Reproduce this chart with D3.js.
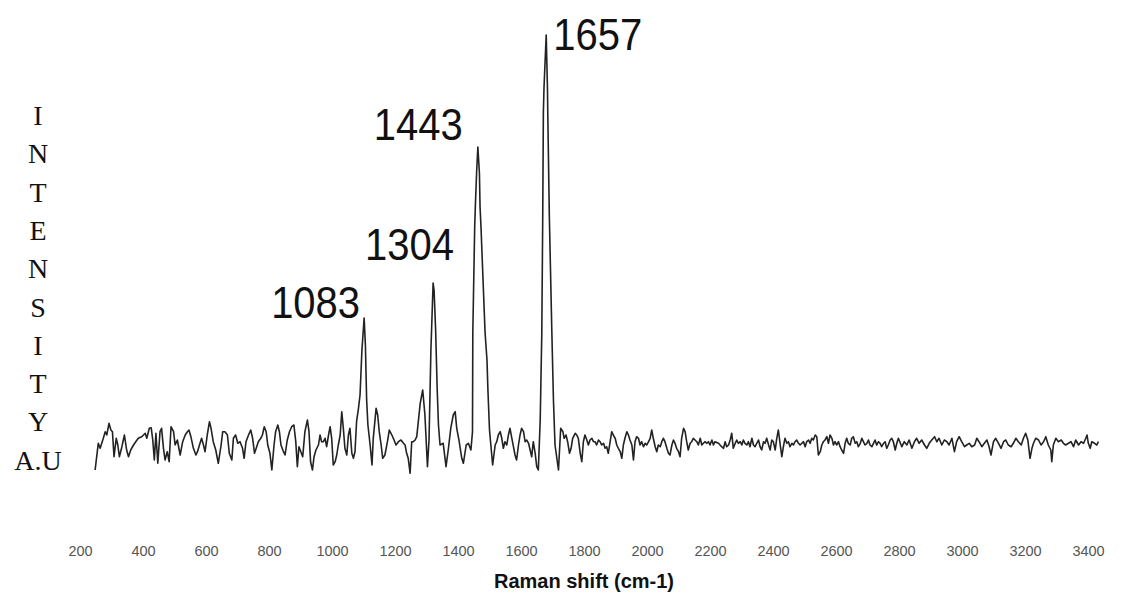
<!DOCTYPE html>
<html>
<head>
<meta charset="utf-8">
<script src="https://cdn.jsdelivr.net/npm/d3@7"></script>
<style>
  html, body { margin: 0; padding: 0; background: #fff; }
  svg { display: block; }
  .tick text { font-family: "Liberation Sans", Arial, sans-serif; font-size: 14.5px; fill: #555; }
</style>
</head>
<body>
<svg width="1123" height="594"></svg>
<script>
// spectrum: [Raman shift (cm-1), intensity (a.u.)]
const lowShift = [
  [248,100],[258,367],[264,317],[274,417],[280,483],[285,450],[292,567],[298,500],[303,483],[308,233],
  [315,417],[320,350],[325,233],[333,333],[341,450],[348,300],[354,233],[361,300],[370,350],[377,383],
  [385,417],[396,433],[407,467],[412,417],[420,517],[426,523],[431,400],[436,200],[441,467],[447,167],
  [454,483],[459,517],[465,317],[470,200],[477,283],[483,183],[489,533],[497,483],[502,350],[509,400],
  [518,250],[526,383],[534,450],[541,483],[546,500],[552,433],[560,317],[568,250],[573,283],[581,367],
  [586,417],[592,350],[597,283],[604,450],[611,583],[616,517],[623,383],[631,300],[639,167],[648,350],
  [653,483],[660,483],[668,450],[674,267],[682,200],[687,417],[694,450],[701,367],[708,383],[716,317],
  [721,217],[727,383],[735,450],[742,500],[748,417],[754,267],[761,333],[766,383],[774,417],[779,450],
  [785,533],[791,483],[796,350],[803,267],[809,100],[816,350],[821,483],[828,550],[833,483],[838,350],
  [846,283],[851,250],[858,400],[865,483],[872,533],[879,550],[885,383],[890,133],[895,333],[901,283],
  [907,233],[914,483],[922,600],[927,483],[932,183],[938,100],[943,233],[949,300],[957,350],[962,450],
  [967,383],[973,383],[978,417],[983,333],[989,450],[994,533],[999,417],[1004,150],[1010,183],[1015,250],
  [1020,350],[1026,450],[1031,683],[1036,517],[1041,317],[1047,250],[1052,450],[1057,517],[1063,267],
  [1068,217],[1073,283],[1078,583],[1084,717]
];

const peakShift = [
  [1089,850],[1095,1300],[1102,1620],[1106,1350],[1110,800],[1114,550],[1121,350],[1127,150],[1131,417],
  [1137,617],[1140,717],[1145,650],[1150,483],[1156,350],[1161,217],[1168,250],[1176,383],[1182,500],
  [1190,450],[1197,400],[1203,350],[1211,383],[1219,400],[1227,367],[1232,350],[1237,267],[1242,217],
  [1248,67],[1253,383],[1258,383],[1264,400],[1269,433],[1274,583],[1280,767],[1285,850],[1288,900],
  [1295,650],[1303,133],[1308,400],[1314,1300],[1321,1970],[1324,1900],[1329,1500],[1334,900],[1338,550],
  [1343,350],[1353,367],[1362,133],[1369,300],[1377,517],[1385,650],[1391,683],[1396,517],[1403,400],
  [1412,217],[1417,167],[1426,350],[1433,367],[1441,300],[1446,483],[1447,1470],[1453,2530],[1455,2730],
  [1459,3070],[1463,3330],[1468,3070],[1470,2730],[1473,2530],[1486,1470],[1492,1200],[1495,900],
  [1500,500],[1510,150],[1518,350],[1523,383],[1528,450],[1534,483],[1539,417],[1544,317],[1549,383],
  [1555,350],[1560,450],[1565,517],[1571,417],[1576,333],[1581,250],[1586,200],[1592,350],[1597,450],
  [1602,517],[1608,483],[1613,383],[1618,400],[1624,367],[1629,300],[1634,233],[1639,383],[1645,267],
  [1650,133],[1655,100],[1661,600],[1666,1470],[1669,2630],[1671,3670],[1673,3920],[1680,4450],
  [1684,3920],[1685,3670],[1690,2630],[1698,1470],[1703,800],[1708,350],[1719,100]
];

const highShift = [
  [1726,517],[1733,483],[1737,417],[1743,450],[1748,383],[1754,267],[1759,317],[1764,417],[1772,467],
  [1777,450],[1782,417],[1788,267],[1793,183],[1798,383],[1803,450],[1809,400],[1814,350],[1819,400],
  [1825,417],[1830,383],[1835,383],[1840,350],[1846,400],[1851,383],[1856,350],[1862,367],[1867,317],
  [1872,333],[1877,267],[1883,383],[1888,483],[1893,450],[1899,417],[1904,350],[1909,317],[1915,283],
  [1920,217],[1925,350],[1930,417],[1936,483],[1941,450],[1946,400],[1952,350],[1957,200],[1962,383],
  [1967,433],[1973,417],[1978,350],[1983,383],[1989,333],[1994,367],[1999,350],[2005,383],[2010,417],
  [2015,500],[2020,417],[2026,333],[2031,283],[2036,350],[2042,333],[2047,383],[2052,417],[2057,383],
  [2063,317],[2068,267],[2073,250],[2079,350],[2084,400],[2089,367],[2094,317],[2100,283],[2105,233],
  [2110,417],[2116,517],[2121,483],[2126,383],[2131,300],[2137,367],[2142,383],[2147,417],[2158,383],
  [2163,350],[2169,417],[2174,350],[2179,367],[2184,383],[2190,367],[2195,383],[2200,350],[2206,400],
  [2211,350],[2216,383],[2227,367],[2232,350],[2237,333],[2243,317],[2248,383],[2253,333],[2259,350],
  [2264,400],[2269,467],[2274,317],[2280,367],[2285,400],[2290,367],[2296,383],[2301,350],[2306,400],
  [2311,367],[2317,350],[2322,383],[2327,333],[2333,417],[2338,350],[2343,333],[2354,400],[2359,333],
  [2364,300],[2370,383],[2375,367],[2380,417],[2386,350],[2391,300],[2396,400],[2401,383],[2407,300],
  [2412,417],[2417,500],[2423,350],[2428,233],[2433,333],[2438,417],[2444,367],[2449,383],[2454,333],
  [2460,367],[2465,350],[2470,383],[2475,400],[2481,367],[2486,350],[2497,383],[2502,333],[2507,383],
  [2513,400],[2518,367],[2523,417],[2528,400],[2534,450],[2539,433],[2544,250],[2550,283],[2555,350],
  [2560,383],[2565,400],[2571,433],[2576,367],[2581,450],[2587,417],[2592,350],[2597,383],[2602,350],
  [2608,383],[2613,333],[2618,300],[2624,267],[2629,367],[2634,417],[2639,367],[2645,350],[2650,417],
  [2655,433],[2661,367],[2666,383],[2671,333],[2677,367],[2682,417],[2687,383],[2692,350],[2698,367],
  [2703,400],[2708,350],[2714,333],[2719,367],[2724,400],[2729,350],[2735,383],[2740,367],[2745,333],
  [2751,367],[2756,383],[2761,317],[2766,350],[2772,400],[2777,417],[2782,383],[2788,300],[2793,367],
  [2798,417],[2809,333],[2817,383],[2825,350],[2832,400],[2841,317],[2849,383],[2856,417],[2864,367],
  [2872,400],[2881,350],[2888,317],[2896,367],[2904,400],[2913,433],[2920,383],[2927,417],[2936,350],
  [2944,400],[2952,383],[2959,350],[2968,417],[2976,283],[2983,383],[2991,433],[2999,383],[3008,333],
  [3015,350],[3023,367],[3031,333],[3040,350],[3047,417],[3054,383],[3063,333],[3071,367],[3079,400],
  [3086,333],[3092,250],[3100,383],[3107,417],[3116,367],[3124,317],[3132,383],[3139,400],[3147,350],
  [3156,333],[3163,367],[3171,417],[3179,383],[3188,350],[3195,417],[3202,467],[3209,400],[3216,217],
  [3222,317],[3227,367],[3234,417],[3243,400],[3251,350],[3259,383],[3266,433],[3274,350],[3282,300],
  [3285,183],[3290,350],[3298,417],[3306,383],[3315,400],[3322,367],[3329,350],[3338,367],[3346,383],
  [3354,333],[3361,400],[3370,350],[3378,383],[3386,367],[3393,417],[3397,450],[3401,367],[3407,317],
  [3412,383],[3421,367],[3428,350],[3433,383]
];

// labelled bands: [label, shift of drawn tip, intensity of tip]
const peakLabels = [
  ["1083", 1102, 1620],
  ["1304", 1321, 1970],
  ["1443", 1463, 3330],
  ["1657", 1680, 4450]
];

const xTicks = [200, 400, 600, 800, 1000, 1200, 1400, 1600, 1800, 2000, 2200, 2400, 2600, 2800, 3000, 3200, 3400];
const yLetters = ["I", "N", "T", "E", "N", "S", "I", "T", "Y", "A.U"];

const spectrum = lowShift.concat(peakShift, highShift);

const svg = d3.select("svg");

// prettier-ignore
svg.append("rect")
    .attr("width", 1123)
    .attr("height", 594)
    .attr("fill", "#fff")

// prettier-ignore
const x = d3.scaleLinear()
    .domain([200, 3400])
    .range([80, 1088])

// prettier-ignore
const y = d3.scaleLinear()
    .domain([0, 4450])
    .range([480, 35])

// prettier-ignore
const line = d3.line()
    .x(d => x(d[0]))
    .y(d => y(d[1]))

// prettier-ignore
svg.append("path")
    .datum(spectrum)
    .attr("d", line)
    .attr("fill", "none")
    .attr("stroke", "#222")
    .attr("stroke-width", 1.6)
    .attr("stroke-linejoin", "round")

// bottom axis: labels only, no line, no tick marks
// prettier-ignore
const xAxis = d3.axisBottom(x)
    .tickValues(xTicks)
    .tickFormat(d3.format("d"))
    .tickSize(0)
    .tickPadding(0)

// prettier-ignore
const xAxisG = svg.append("g")
    .attr("transform", "translate(0, 546)")
    .call(xAxis)

xAxisG.select(".domain").remove();

// prettier-ignore
svg.append("text")
    .attr("x", x(1800))
    .attr("y", 588)
    .attr("text-anchor", "middle")
    .attr("font-family", "'Liberation Sans', Arial, sans-serif")
    .attr("font-weight", "bold")
    .attr("font-size", 20)
    .attr("fill", "#111")
    .text("Raman shift (cm-1)")

// stacked intensity label
// prettier-ignore
svg.append("g")
    .selectAll("text")
    .data(yLetters)
    .join("text")
    .attr("x", 38)
    .attr("y", (d, i) => 125 + i * 38.3)
    .attr("text-anchor", "middle")
    .attr("font-family", "'Liberation Serif', 'Times New Roman', serif")
    .attr("font-size", 28)
    .attr("fill", "#111")
    .text(d => d)

// peak labels, placed next to the drawn tips
const labelOffsets = {
  "1083": { dx: -4, dy: 0, anchor: "end" },
  "1304": { dx: 21, dy: -23, anchor: "end" },
  "1443": { dx: -15, dy: -7, anchor: "end" },
  "1657": { dx: 7, dy: 15, anchor: "start" }
};

// prettier-ignore
svg.append("g")
    .selectAll("text")
    .data(peakLabels)
    .join("text")
    .attr("x", d => x(d[1]) + labelOffsets[d[0]].dx)
    .attr("y", d => y(d[2]) + labelOffsets[d[0]].dy)
    .attr("text-anchor", d => labelOffsets[d[0]].anchor)
    .attr("font-family", "'Liberation Sans', Arial, sans-serif")
    .attr("font-size", 44)
    .attr("textLength", 89)
    .attr("lengthAdjust", "spacingAndGlyphs")
    .attr("fill", "#111")
    .text(d => d[0])
</script>
</body>
</html>
